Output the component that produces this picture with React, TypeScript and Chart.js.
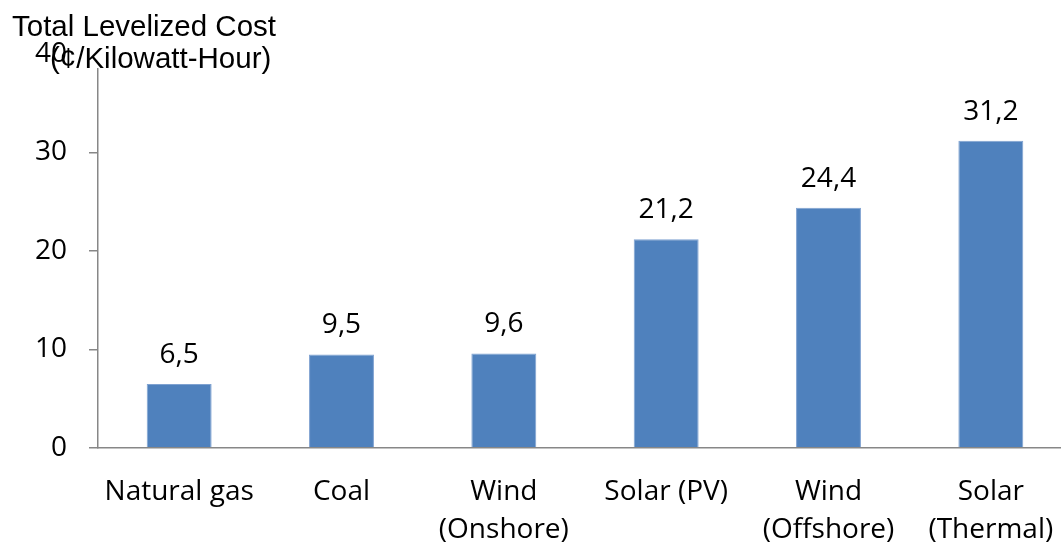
import { useEffect, useRef } from 'react';
import { Chart, registerables } from 'chart.js';

Chart.register(...registerables);

// Levelized cost of electricity by generation source (¢ per kWh)
const categories: (string | string[])[] = [
  'Natural gas',
  'Coal',
  ['Wind', '(Onshore)'],
  'Solar (PV)',
  ['Wind', '(Offshore)'],
  ['Solar', '(Thermal)'],
];
const costs: number[] = [6.5, 9.5, 9.6, 21.2, 24.4, 31.2];
const yTicks: number[] = [0, 10, 20, 30, 40];
const axisTitleLines: string[] = ['Total Levelized Cost', '(¢/Kilowatt-Hour)'];

const LABEL_FONT = '"Open Sans", "DejaVu Sans", sans-serif';
const TITLE_FONT = '"Liberation Sans", Arial, sans-serif';
const AXIS_GREY = '#878787';
const BAR_BLUE = '#4F81BD';

const formatValue = (v: number) => v.toFixed(1).replace('.', ',');

// Value labels above bars plus the y-axis title (with a white backing box)
const annotations = {
  id: 'annotations',
  afterDatasetsDraw(chart: Chart) {
    const ctx = chart.ctx;
    const meta = chart.getDatasetMeta(0);
    ctx.save();
    ctx.font = `28px ${LABEL_FONT}`;
    ctx.fillStyle = '#000';
    ctx.textAlign = 'center';
    ctx.textBaseline = 'alphabetic';
    meta.data.forEach((bar: any, i: number) => {
      ctx.fillText(formatValue(costs[i]), bar.x, bar.y - 21);
    });

    ctx.font = `29.5px ${TITLE_FONT}`;
    ctx.textAlign = 'left';
    ctx.fillStyle = '#fff';
    ctx.fillRect(49, 40, 226, 28);
    ctx.fillStyle = '#000';
    ctx.fillText(axisTitleLines[0], 12, 36);
    ctx.fillText(axisTitleLines[1], 50, 68);
    ctx.restore();
  },
};

export default function App() {
  const canvasRef = useRef<HTMLCanvasElement | null>(null);

  useEffect(() => {
    let chart: Chart | null = null;
    let cancelled = false;

    const build = () => {
      if (cancelled || !canvasRef.current) return;
      chart = new Chart(canvasRef.current, {
        type: 'bar',
        data: {
          labels: categories,
          datasets: [
            {
              data: costs,
              backgroundColor: BAR_BLUE,
              borderColor: '#7FA2D1',
              borderWidth: 1,
              barPercentage: 0.4,
              categoryPercentage: 1,
            },
          ],
        },
        options: {
          animation: false,
          responsive: false,
          devicePixelRatio: 1,
          layout: { padding: { top: 54, left: 0, right: 0, bottom: 0 } },
          plugins: {
            legend: { display: false },
            tooltip: { enabled: false },
            title: { display: false },
          },
          scales: {
            x: {
              offset: true,
              grid: { display: false, drawTicks: false },
              border: { display: true, color: AXIS_GREY, width: 1.5, z: 1 },
              ticks: {
                color: '#000',
                padding: 25,
                maxRotation: 0,
                autoSkip: false,
                font: { family: LABEL_FONT, size: 28, lineHeight: '38px' },
              },
              afterFit: (scale: any) => {
                scale.height = 97;
                scale.paddingLeft = 0;
                scale.paddingRight = 0;
              },
            },
            y: {
              min: 0,
              max: 40,
              grid: {
                drawOnChartArea: false,
                drawTicks: true,
                tickLength: 9,
                color: AXIS_GREY,
                lineWidth: 1.5,
              },
              border: { display: true, color: AXIS_GREY, width: 1.5 },
              ticks: {
                z: 1,
                color: '#000',
                padding: 22,
                font: { family: LABEL_FONT, size: 28 },
              },
              afterBuildTicks: (scale: any) => {
                scale.ticks = yTicks.map((v) => ({ value: v }));
              },
              afterFit: (scale: any) => {
                scale.width = 98;
              },
            },
          },
        },
        plugins: [annotations],
      });
    };

    const fonts = (document as any).fonts;
    if (fonts && fonts.load) {
      Promise.all([
        fonts.load('28px "Open Sans"'),
        fonts.load('29px "Liberation Sans"'),
      ])
        .catch(() => undefined)
        .then(build);
    } else {
      build();
    }

    return () => {
      cancelled = true;
      if (chart) chart.destroy();
    };
  }, []);

  return (
    <div
      style={{
        position: 'fixed',
        left: 0,
        top: 0,
        width: 1061,
        height: 545,
        overflow: 'hidden',
        background: '#fff',
      }}
    >
      <canvas ref={canvasRef} width={1072} height={545} style={{ display: 'block' }} />
    </div>
  );
}
